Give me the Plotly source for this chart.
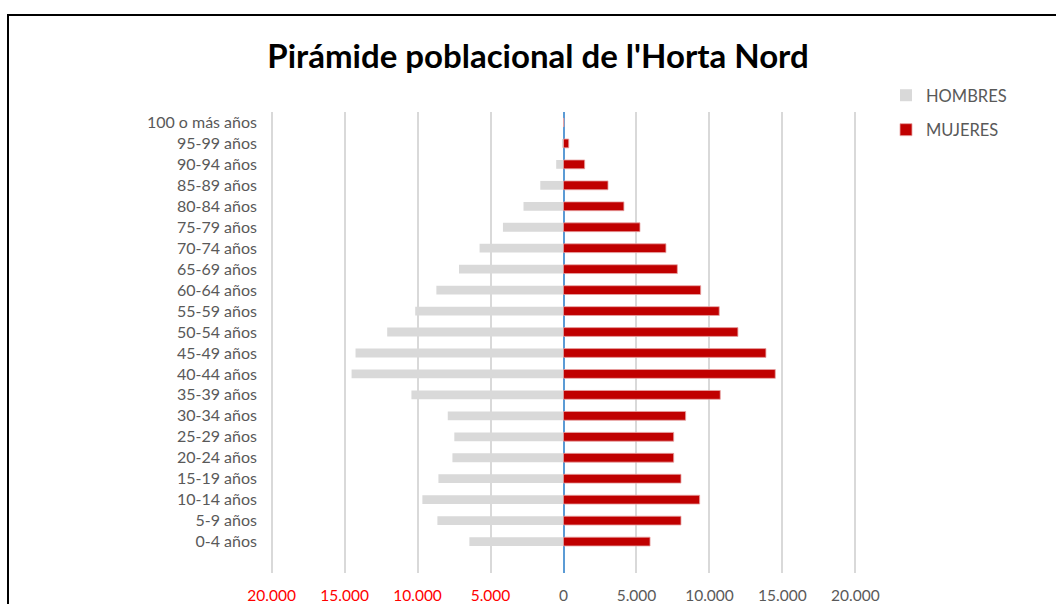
import plotly.graph_objects as go

categories = ["0-4 años", "5-9 años", "10-14 años", "15-19 años", "20-24 años",
              "25-29 años", "30-34 años", "35-39 años", "40-44 años", "45-49 años",
              "50-54 años", "55-59 años", "60-64 años", "65-69 años", "70-74 años",
              "75-79 años", "80-84 años", "85-89 años", "90-94 años", "95-99 años",
              "100 o más años"]
hombres = [6450, 8640, 9670, 8570, 7610, 7480, 7930, 10420, 14520, 14250,
           12080, 10160, 8710, 7160, 5750, 4150, 2740, 1590, 500, 80, 10]
mujeres = [5930, 8050, 9330, 8050, 7550, 7550, 8370, 10740, 14510, 13870,
           11950, 10670, 9400, 7800, 7020, 5240, 4140, 3050, 1450, 360, 20]
tick_vals = [-20000, -15000, -10000, -5000, 0, 5000, 10000, 15000, 20000]
tick_text = ["20.000", "15.000", "10.000", "5.000", "0", "5.000", "10.000", "15.000", "20.000"]

FONT = "Lato, 'Noto Sans', sans-serif"
GREY = "#595959"

fig = go.Figure()
fig.add_trace(go.Bar(
    y=categories, x=[-v for v in hombres], orientation="h", name="HOMBRES",
    marker=dict(color="#D9D9D9", line=dict(width=0)), width=0.42,
    legendgroup="h", customdata=hombres,
    hovertemplate="%{y}: %{customdata}<extra>HOMBRES</extra>"))
fig.add_trace(go.Bar(
    y=categories, x=mujeres, orientation="h", name="MUJERES",
    marker=dict(color="#C00000", line=dict(width=0.8, color="#E7A3A3")), width=0.42,
    legendgroup="m",
    hovertemplate="%{y}: %{x}<extra>MUJERES</extra>"))

ticktext_col = [f"<span style='color:#FF0000'>{t}</span>" if v < 0 else t
                for v, t in zip(tick_vals, tick_text)]

L, R, T, B = 270, 199, 112, 31
W, H = 1056, 604
pw, ph = W - L - R, H - T - B

fig.update_layout(
    width=W, height=H,
    margin=dict(l=L, r=R, t=T, b=B, autoexpand=False),
    paper_bgcolor="white", plot_bgcolor="white",
    barmode="overlay",
    font=dict(family=FONT, size=16, color=GREY),
    title=dict(text="<b>Pirámide poblacional de l'Horta Nord</b>",
               x=538 / W, xanchor="center", y=1 - 56 / H, yanchor="middle",
               font=dict(family=FONT, size=33, color="black")),
    xaxis=dict(range=[-20110, 20110], tickvals=tick_vals, ticktext=ticktext_col,
               showgrid=True, gridcolor="#D9D9D9", gridwidth=1.8,
               zeroline=True, zerolinecolor="#5B9BD5", zerolinewidth=1.8,
               showline=False, ticks="", ticklabelstandoff=11, automargin=False,
               tickfont=dict(size=15.5, color=GREY)),
    yaxis=dict(type="category", categoryorder="array", categoryarray=categories,
               range=[-1.5, 20.5], showgrid=False, zeroline=False, showline=False,
               ticks="", ticklabelstandoff=12, automargin=False,
               tickfont=dict(size=16, color=GREY)),
    legend=dict(x=(886 - L) / pw, y=(H - B - 78) / ph, xanchor="left", yanchor="top",
                traceorder="grouped", tracegroupgap=10,
                font=dict(size=16.5, color=GREY), bgcolor="rgba(0,0,0,0)",
                itemwidth=30),
    showlegend=True,
    shapes=[dict(type="rect", xref="paper", yref="paper",
                 x0=(8 - L) / pw, x1=(W + 20 - L) / pw,
                 y0=(H - B - (H + 20)) / ph, y1=(H - B - 15) / ph,
                 line=dict(color="black", width=2), fillcolor="rgba(0,0,0,0)",
                 layer="below")],
)

fig.write_html("out.html", config={"displayModeBar": False},
               post_script="document.body.style.margin='0';")
